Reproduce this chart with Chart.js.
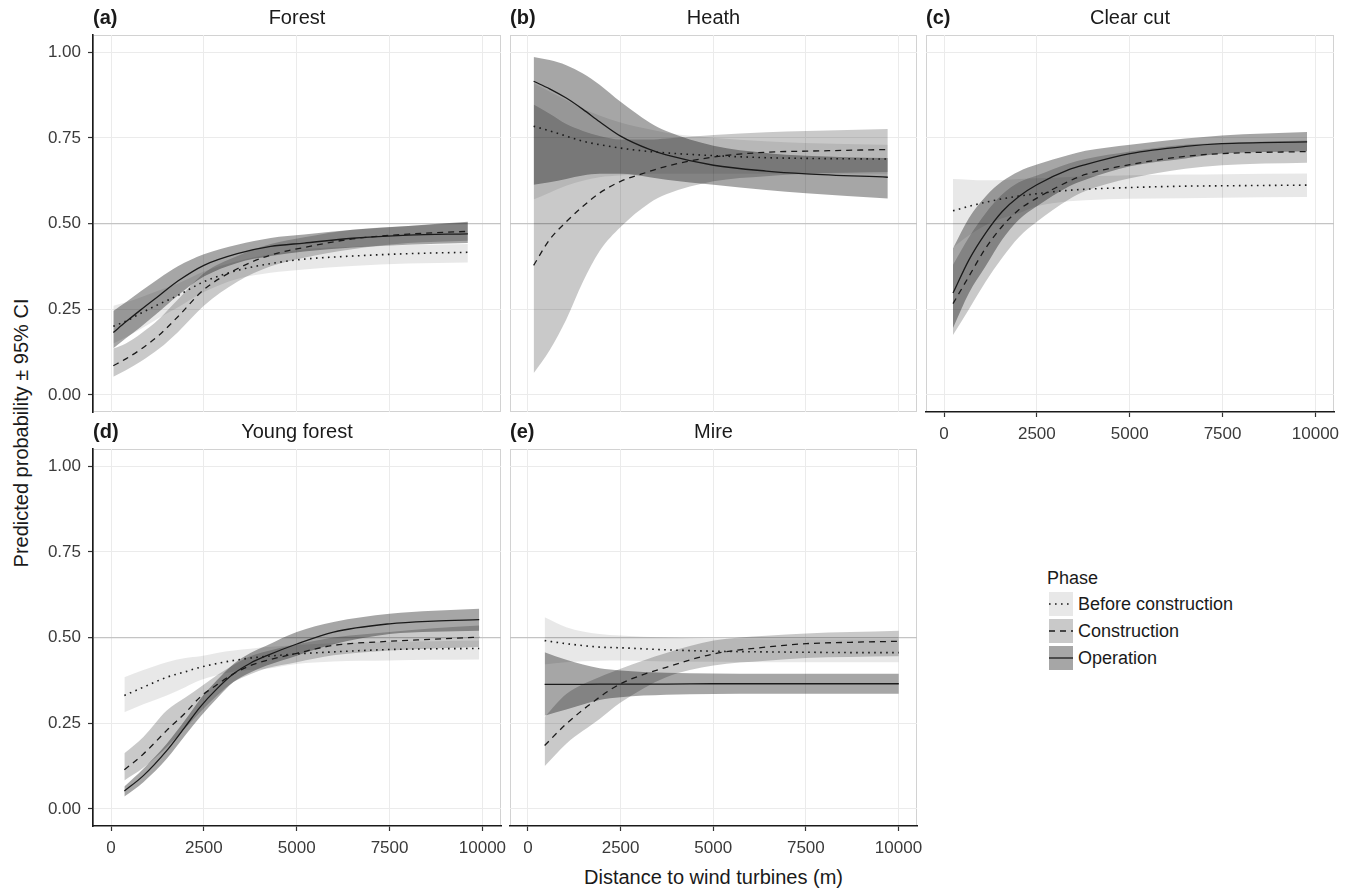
<!DOCTYPE html>
<html>
<head>
<meta charset="utf-8">
<title>Predicted probability vs distance to wind turbines</title>
<script src="https://cdn.jsdelivr.net/npm/chart.js@4.4.1/dist/chart.umd.min.js"></script>
<style>
  body { margin: 0; background: #fff; font-family: "Liberation Sans", Arial, Helvetica, sans-serif; color: #1a1a1a; }
  #figure { position: relative; width: 1354px; height: 888px; overflow: hidden; }
  .panel { position: absolute; }
  .strip-tag { position: absolute; font-weight: bold; font-size: 20px; line-height: 24px; white-space: nowrap; }
  .strip-name { position: absolute; font-size: 20px; line-height: 24px; text-align: center; white-space: nowrap; }
  #ytitle { position: absolute; left: -229px; top: 421px; width: 500px; height: 24px; line-height: 24px;
            font-size: 20px; text-align: center; transform: rotate(-90deg); white-space: nowrap; }
  #xtitle { position: absolute; left: 93px; top: 866px; width: 1241px; line-height: 22px; font-size: 20px; text-align: center; }
  #legend { position: absolute; left: 1047px; top: 567px; font-size: 18px; }
  #legend .lg-title { line-height: 22px; margin-bottom: 3px; }
  #legend .lg-row { height: 24px; margin-bottom: 3px; display: flex; align-items: center; }
  #legend svg { margin-left: 2px; margin-right: 5px; }
</style>
</head>
<body>
<div id="figure">
  <div id="ytitle">Predicted probability ± 95% CI</div>
  <div id="xtitle">Distance to wind turbines (m)</div>
  <div id="legend"><div class="lg-title">Phase</div></div>
</div>
<script>
// axis ticks
const xTickValues = [0, 2500, 5000, 7500, 10000];
const xTickLabels = ['0', '2500', '5000', '7500', '10000'];
const yTickValues = [0, 0.25, 0.5, 0.75, 1];
const yTickLabels = ['0.00', '0.25', '0.50', '0.75', '1.00'];
const phaseNames = ['Before construction', 'Construction', 'Operation'];

// (a) Forest
const forestX = [62, 400, 800, 1300, 1800, 2500, 3400, 4300, 5200, 6500, 8000, 9608];
const forestBeforeFit = [0.200, 0.215, 0.238, 0.265, 0.290, 0.330, 0.363, 0.383, 0.396, 0.405, 0.412, 0.416];
const forestBeforeLow = [0.150, 0.168, 0.192, 0.225, 0.255, 0.300, 0.338, 0.356, 0.366, 0.376, 0.383, 0.386];
const forestBeforeHigh = [0.260, 0.270, 0.285, 0.305, 0.325, 0.360, 0.390, 0.410, 0.425, 0.432, 0.437, 0.440];
const forestConstrFit = [0.085, 0.105, 0.133, 0.175, 0.228, 0.307, 0.368, 0.408, 0.430, 0.455, 0.469, 0.477];
const forestConstrLow = [0.053, 0.072, 0.097, 0.135, 0.183, 0.260, 0.330, 0.375, 0.400, 0.425, 0.443, 0.450];
const forestConstrHigh = [0.135, 0.150, 0.178, 0.222, 0.278, 0.355, 0.405, 0.440, 0.460, 0.482, 0.493, 0.503];
const forestOperFit = [0.182, 0.213, 0.248, 0.290, 0.332, 0.378, 0.412, 0.433, 0.443, 0.457, 0.466, 0.470];
const forestOperLow = [0.136, 0.165, 0.198, 0.243, 0.290, 0.345, 0.385, 0.405, 0.418, 0.430, 0.438, 0.443];
const forestOperHigh = [0.245, 0.270, 0.302, 0.340, 0.375, 0.410, 0.438, 0.458, 0.468, 0.482, 0.493, 0.505];

// (b) Heath
const heathX = [153, 585, 1034, 1484, 1934, 2500, 3282, 3732, 5009, 6430, 7509, 9712];
const heathBeforeFit = [0.784, 0.770, 0.755, 0.740, 0.730, 0.720, 0.710, 0.706, 0.698, 0.692, 0.690, 0.688];
const heathBeforeLow = [0.570, 0.590, 0.610, 0.625, 0.635, 0.640, 0.645, 0.645, 0.645, 0.645, 0.645, 0.645];
const heathBeforeHigh = [0.910, 0.885, 0.860, 0.835, 0.815, 0.795, 0.775, 0.765, 0.750, 0.740, 0.735, 0.730];
const heathConstrFit = [0.378, 0.453, 0.505, 0.550, 0.589, 0.623, 0.652, 0.667, 0.694, 0.708, 0.711, 0.716];
const heathConstrLow = [0.063, 0.130, 0.220, 0.330, 0.420, 0.490, 0.560, 0.585, 0.623, 0.638, 0.645, 0.650];
const heathConstrHigh = [0.847, 0.820, 0.790, 0.770, 0.755, 0.745, 0.745, 0.748, 0.758, 0.766, 0.770, 0.776];
const heathOperFit = [0.915, 0.893, 0.866, 0.833, 0.797, 0.755, 0.716, 0.700, 0.670, 0.653, 0.645, 0.635];
const heathOperLow = [0.613, 0.620, 0.630, 0.640, 0.645, 0.645, 0.635, 0.628, 0.613, 0.598, 0.588, 0.573];
const heathOperHigh = [0.986, 0.977, 0.962, 0.938, 0.905, 0.855, 0.795, 0.770, 0.727, 0.706, 0.698, 0.691];

// (c) Clear cut
const clearX = [242, 672, 1120, 1568, 2016, 2500, 3360, 3808, 5009, 6496, 7482, 9776];
const clearBeforeFit = [0.537, 0.550, 0.562, 0.572, 0.580, 0.587, 0.597, 0.600, 0.605, 0.609, 0.610, 0.612];
const clearBeforeLow = [0.430, 0.465, 0.495, 0.515, 0.530, 0.550, 0.565, 0.568, 0.572, 0.574, 0.575, 0.577];
const clearBeforeHigh = [0.630, 0.628, 0.626, 0.627, 0.630, 0.632, 0.636, 0.638, 0.641, 0.643, 0.644, 0.646];
const clearConstrFit = [0.266, 0.346, 0.428, 0.492, 0.540, 0.574, 0.623, 0.643, 0.672, 0.696, 0.704, 0.710];
const clearConstrLow = [0.175, 0.250, 0.330, 0.400, 0.460, 0.505, 0.570, 0.595, 0.632, 0.660, 0.670, 0.677];
const clearConstrHigh = [0.380, 0.460, 0.530, 0.585, 0.620, 0.640, 0.675, 0.688, 0.710, 0.730, 0.735, 0.742];
const clearOperFit = [0.297, 0.394, 0.472, 0.535, 0.579, 0.613, 0.657, 0.672, 0.704, 0.725, 0.733, 0.738];
const clearOperLow = [0.195, 0.297, 0.375, 0.453, 0.511, 0.550, 0.608, 0.628, 0.667, 0.690, 0.704, 0.711];
const clearOperHigh = [0.428, 0.516, 0.579, 0.623, 0.652, 0.672, 0.700, 0.712, 0.730, 0.748, 0.757, 0.767];

// (d) Young forest
const youngX = [359, 871, 1500, 2000, 2398, 2850, 3297, 3750, 4194, 5002, 5990, 7498, 8683, 9914];
const youngBeforeFit = [0.331, 0.355, 0.384, 0.400, 0.413, 0.424, 0.433, 0.440, 0.445, 0.452, 0.458, 0.465, 0.467, 0.468];
const youngBeforeLow = [0.282, 0.305, 0.331, 0.355, 0.375, 0.390, 0.400, 0.405, 0.409, 0.423, 0.430, 0.433, 0.435, 0.436];
const youngBeforeHigh = [0.384, 0.405, 0.428, 0.440, 0.445, 0.455, 0.462, 0.467, 0.472, 0.478, 0.483, 0.487, 0.489, 0.491];
const youngConstrFit = [0.114, 0.160, 0.229, 0.280, 0.326, 0.362, 0.394, 0.418, 0.433, 0.454, 0.477, 0.489, 0.495, 0.501];
const youngConstrLow = [0.083, 0.120, 0.180, 0.235, 0.282, 0.330, 0.370, 0.393, 0.410, 0.428, 0.448, 0.462, 0.468, 0.472];
const youngConstrHigh = [0.162, 0.210, 0.287, 0.325, 0.355, 0.390, 0.420, 0.445, 0.460, 0.480, 0.500, 0.516, 0.527, 0.535];
const youngOperFit = [0.052, 0.097, 0.170, 0.240, 0.297, 0.350, 0.394, 0.425, 0.447, 0.481, 0.516, 0.540, 0.548, 0.552];
const youngOperLow = [0.036, 0.078, 0.146, 0.215, 0.268, 0.322, 0.370, 0.398, 0.418, 0.447, 0.480, 0.510, 0.517, 0.520];
const youngOperHigh = [0.065, 0.117, 0.190, 0.260, 0.320, 0.375, 0.423, 0.455, 0.477, 0.516, 0.545, 0.569, 0.578, 0.584];

// (e) Mire
const mireX = [450, 1034, 1934, 2500, 3732, 5009, 6430, 7509, 8700, 10009];
const mireBeforeFit = [0.491, 0.482, 0.472, 0.470, 0.464, 0.460, 0.458, 0.457, 0.456, 0.456];
const mireBeforeLow = [0.421, 0.428, 0.432, 0.433, 0.430, 0.429, 0.428, 0.428, 0.428, 0.428];
const mireBeforeHigh = [0.559, 0.530, 0.510, 0.506, 0.500, 0.496, 0.495, 0.495, 0.495, 0.495];
const mireConstrFit = [0.185, 0.248, 0.326, 0.365, 0.413, 0.452, 0.472, 0.482, 0.486, 0.489];
const mireConstrLow = [0.124, 0.190, 0.262, 0.310, 0.384, 0.418, 0.432, 0.440, 0.443, 0.445];
const mireConstrHigh = [0.268, 0.335, 0.385, 0.409, 0.455, 0.491, 0.505, 0.512, 0.516, 0.520];
const mireOperFit = [0.363, 0.363, 0.364, 0.364, 0.364, 0.365, 0.365, 0.365, 0.365, 0.365];
const mireOperLow = [0.272, 0.290, 0.318, 0.326, 0.333, 0.335, 0.336, 0.336, 0.336, 0.336];
const mireOperHigh = [0.457, 0.435, 0.410, 0.404, 0.397, 0.395, 0.394, 0.394, 0.394, 0.394];

const panels = [
  { tag: '(a)', name: 'Forest', x: forestX,
    before: [forestBeforeFit, forestBeforeLow, forestBeforeHigh],
    construction: [forestConstrFit, forestConstrLow, forestConstrHigh],
    operation: [forestOperFit, forestOperLow, forestOperHigh] },
  { tag: '(b)', name: 'Heath', x: heathX,
    before: [heathBeforeFit, heathBeforeLow, heathBeforeHigh],
    construction: [heathConstrFit, heathConstrLow, heathConstrHigh],
    operation: [heathOperFit, heathOperLow, heathOperHigh] },
  { tag: '(c)', name: 'Clear cut', x: clearX,
    before: [clearBeforeFit, clearBeforeLow, clearBeforeHigh],
    construction: [clearConstrFit, clearConstrLow, clearConstrHigh],
    operation: [clearOperFit, clearOperLow, clearOperHigh] },
  { tag: '(d)', name: 'Young forest', x: youngX,
    before: [youngBeforeFit, youngBeforeLow, youngBeforeHigh],
    construction: [youngConstrFit, youngConstrLow, youngConstrHigh],
    operation: [youngOperFit, youngOperLow, youngOperHigh] },
  { tag: '(e)', name: 'Mire', x: mireX,
    before: [mireBeforeFit, mireBeforeLow, mireBeforeHigh],
    construction: [mireConstrFit, mireConstrLow, mireConstrHigh],
    operation: [mireOperFit, mireOperLow, mireOperHigh] }
];

// layout of the facets (plot area in page pixels)
const boxes = [
  { left: 93, top: 35, right: 501, bottom: 412, yLabels: true, xLabels: false, leftLine: true, bottomLine: false },
  { left: 510, top: 35, right: 917, bottom: 412, yLabels: false, xLabels: false, leftLine: false, bottomLine: false },
  { left: 926, top: 35, right: 1334, bottom: 412, yLabels: false, xLabels: true, leftLine: false, bottomLine: true },
  { left: 93, top: 449, right: 501, bottom: 826, yLabels: true, xLabels: true, leftLine: true, bottomLine: true },
  { left: 510, top: 449, right: 917, bottom: 826, yLabels: false, xLabels: true, leftLine: false, bottomLine: true }
];

const styles = {
  before: { fill: 'rgba(0,0,0,0.09)', dash: [1.6, 4.4], width: 1.6 },
  construction: { fill: 'rgba(0,0,0,0.21)', dash: [6, 5], width: 1.3 },
  operation: { fill: 'rgba(0,0,0,0.35)', dash: [], width: 1.3 }
};

// padding kept larger than the label overflow Chart.js reserves, so the plot area lands where wanted
const PAD = { left: 4, right: 26, top: 22, bottom: 20 };
const Y_AXIS_W = 60;
const X_AXIS_H = 40;
const tickFont = { family: '"Liberation Sans", Arial, sans-serif', size: 17 };

// grey frame round each facet, drawn under the axis lines
const panelBorder = {
  id: 'panelBorder',
  beforeDraw(chart) {
    const { ctx, chartArea: a } = chart;
    ctx.save();
    ctx.strokeStyle = '#d2d2d2';
    ctx.lineWidth = 1;
    ctx.strokeRect(Math.round(a.left) + 0.5, Math.round(a.top) + 0.5,
      Math.round(a.right - a.left) - 1, Math.round(a.bottom - a.top) - 1);
    ctx.restore();
  }
};

function points(xs, ys) {
  return ys.map((v, i) => ({ x: xs[i], y: v }));
}

function buildDatasets(p) {
  const keys = ['operation', 'construction', 'before'];
  const lines = keys.map(k => ({
    data: points(p.x, p[k][0]),
    borderColor: '#1a1a1a',
    borderWidth: styles[k].width,
    borderDash: styles[k].dash,
    fill: false,
    pointRadius: 0,
    cubicInterpolationMode: 'monotone'
  }));
  const bands = [];
  keys.slice().reverse().forEach(k => {
    bands.push({
      data: points(p.x, p[k][2]),
      borderColor: 'rgba(0,0,0,0)',
      borderWidth: 0,
      backgroundColor: styles[k].fill,
      fill: '+1',
      pointRadius: 0,
      cubicInterpolationMode: 'monotone'
    });
    bands.push({
      data: points(p.x, p[k][1]),
      borderColor: 'rgba(0,0,0,0)',
      borderWidth: 0,
      fill: false,
      pointRadius: 0,
      cubicInterpolationMode: 'monotone'
    });
  });
  // first dataset is drawn on top, so lines go first
  return lines.concat(bands);
}

function drawPanel(p, box) {
  const fig = document.getElementById('figure');
  const yW = box.yLabels ? Y_AXIS_W : 0;
  const xH = box.xLabels ? X_AXIS_H : 0;
  const w = (box.right - box.left) + yW + PAD.left + PAD.right;
  const h = (box.bottom - box.top) + xH + PAD.top + PAD.bottom;

  const holder = document.createElement('div');
  holder.className = 'panel';
  holder.style.left = (box.left - yW - PAD.left) + 'px';
  holder.style.top = (box.top - PAD.top) + 'px';
  const canvas = document.createElement('canvas');
  canvas.width = w;
  canvas.height = h;
  canvas.style.width = w + 'px';
  canvas.style.height = h + 'px';
  holder.appendChild(canvas);
  fig.appendChild(holder);

  const tag = document.createElement('div');
  tag.className = 'strip-tag';
  tag.textContent = p.tag;
  tag.style.left = box.left + 'px';
  tag.style.top = (box.top - 30) + 'px';
  fig.appendChild(tag);

  const name = document.createElement('div');
  name.className = 'strip-name';
  name.textContent = p.name;
  name.style.left = box.left + 'px';
  name.style.width = (box.right - box.left) + 'px';
  name.style.top = (box.top - 30) + 'px';
  fig.appendChild(name);

  new Chart(canvas, {
    type: 'line',
    data: { datasets: buildDatasets(p) },
    options: {
      responsive: false,
      animation: false,
      devicePixelRatio: 1,
      layout: { padding: PAD },
      plugins: { legend: { display: false }, tooltip: { enabled: false } },
      scales: {
        x: {
          type: 'linear',
          min: -485,
          max: 10500,
          afterBuildTicks: s => { s.ticks = xTickValues.map(v => ({ value: v })); },
          afterFit: s => { s.height = xH; },
          ticks: {
            display: box.xLabels,
            callback: (v, i) => xTickLabels[i],
            font: tickFont,
            color: '#3a3a3a',
            padding: 7,
            maxRotation: 0,
            autoSkip: false
          },
          grid: { color: '#ebebeb', lineWidth: 1, drawTicks: box.xLabels, tickLength: 5, tickColor: '#333', tickWidth: 1.2 },
          border: { display: box.bottomLine, color: '#1a1a1a', width: 1.6 }
        },
        y: {
          min: -0.05,
          max: 1.05,
          afterBuildTicks: s => { s.ticks = yTickValues.map(v => ({ value: v })); },
          afterFit: s => { s.width = yW; },
          ticks: {
            display: box.yLabels,
            callback: (v, i) => yTickLabels[i],
            font: tickFont,
            color: '#3a3a3a',
            padding: 7
          },
          grid: {
            color: c => (c.tick && c.tick.value === 0.5 ? '#c4c4c4' : '#ebebeb'),
            lineWidth: c => (c.tick && c.tick.value === 0.5 ? 1.3 : 1),
            drawTicks: box.yLabels,
            tickLength: 5,
            tickColor: '#333',
            tickWidth: 1.2
          },
          border: { display: box.leftLine, color: '#1a1a1a', width: 1.6 }
        }
      }
    },
    plugins: [panelBorder]
  });
}

panels.forEach((p, i) => drawPanel(p, boxes[i]));

// legend
const legend = document.getElementById('legend');
const legendKeys = ['before', 'construction', 'operation'];
legendKeys.forEach((k, i) => {
  const row = document.createElement('div');
  row.className = 'lg-row';
  const dash = styles[k].dash.length ? styles[k].dash.join(' ') : 'none';
  row.innerHTML =
    '<svg width="24" height="24" viewBox="0 0 24 24">' +
    '<rect x="0" y="0" width="24" height="24" fill="' + styles[k].fill + '"/>' +
    '<line x1="0" y1="12" x2="24" y2="12" stroke="#1a1a1a" stroke-width="' + styles[k].width + '" stroke-dasharray="' + dash + '"/>' +
    '</svg><span>' + phaseNames[i] + '</span>';
  legend.appendChild(row);
});
</script>
</body>
</html>
